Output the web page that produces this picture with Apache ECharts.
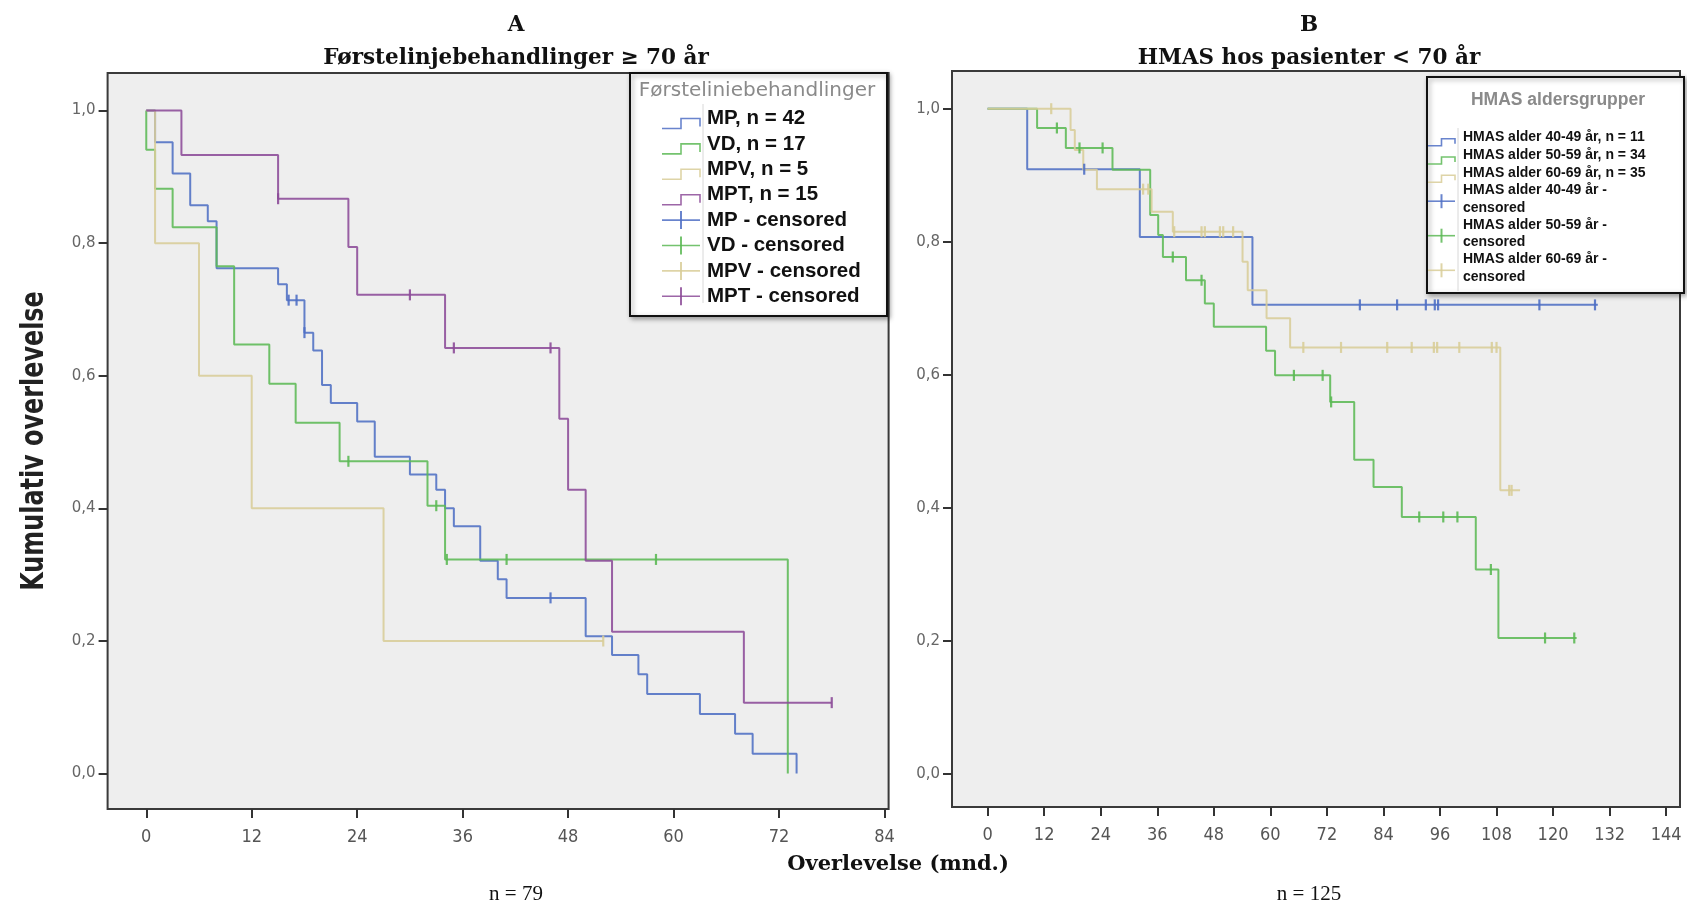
<!DOCTYPE html>
<html>
<head>
<meta charset="utf-8">
<script src="https://cdn.jsdelivr.net/npm/echarts@6/dist/echarts.min.js"></script>
<style>
  html, body { margin: 0; padding: 0; background: #fff; }
  #chart { width: 1687px; height: 904px; }
</style>
</head>
<body>
<div id="chart"></div>
<script>
// A: førstelinjebehandlinger >= 70 år  [måned, kumulativ overlevelse]
const mpSteps = [[0, 1], [1, 0.952], [3, 0.905], [5, 0.857], [7, 0.833], [8, 0.762], [15, 0.738], [16, 0.714], [18, 0.665], [19, 0.638], [20, 0.586], [21, 0.559], [24, 0.531], [26, 0.478], [30, 0.451], [33, 0.428], [34, 0.400], [35, 0.373], [38, 0.321], [40, 0.293], [41, 0.265], [50, 0.207], [53, 0.179], [56, 0.150], [57, 0.120], [63, 0.090], [67, 0.060], [69, 0.030], [74, 0]]
const mpCensored = [[16.2, 0.714], [17.1, 0.714], [18, 0.665], [46, 0.265]]
const vdSteps = [[0, 1], [0, 0.941], [1, 0.882], [3, 0.824], [8, 0.765], [10, 0.647], [14, 0.588], [17, 0.529], [22, 0.471], [32, 0.404], [34, 0.323], [73, 0]]
const vdCensored = [[23, 0.471], [33, 0.404], [34.2, 0.323], [41, 0.323], [58, 0.323]]
const mpvSteps = [[0, 1], [1, 0.8], [6, 0.6], [12, 0.4], [27, 0.2], [52, 0.2]]
const mpvCensored = [[52, 0.2]]
const mptSteps = [[0, 1], [4, 0.933], [15, 0.867], [23, 0.794], [24, 0.722], [34, 0.642], [47, 0.535], [48, 0.428], [50, 0.321], [53, 0.214], [68, 0.107], [78, 0.107]]
const mptCensored = [[15, 0.867], [30, 0.722], [35, 0.642], [46, 0.642], [78, 0.107]]

// B: HMAS hos pasienter < 70 år
const b40Steps = [[0, 1], [8.4, 0.909], [32.3, 0.807], [56.2, 0.705], [129.5, 0.705]]
const b40Censored = [[20.5, 0.909], [79, 0.705], [86.9, 0.705], [93, 0.705], [94.9, 0.705], [95.6, 0.705], [117.1, 0.705], [128.9, 0.705]]
const b50Steps = [[0, 1], [10.5, 0.971], [16.6, 0.941], [26.5, 0.908], [34.5, 0.840], [36.2, 0.810], [37.2, 0.777], [42.1, 0.742], [46.1, 0.707], [48, 0.672], [59.1, 0.636], [61, 0.599], [72.7, 0.559], [77.8, 0.472], [81.9, 0.431], [87.9, 0.386], [103.6, 0.307], [108.4, 0.204], [125, 0.204]]
const b50Censored = [[14.7, 0.971], [19.5, 0.941], [24.4, 0.941], [39.3, 0.777], [45.4, 0.742], [65, 0.599], [71.1, 0.599], [72.9, 0.559], [91.6, 0.386], [96.7, 0.386], [99.7, 0.386], [106.8, 0.307], [118.3, 0.204], [124.5, 0.204]]
const b60Steps = [[0, 1], [17.6, 0.968], [18.5, 0.938], [20.3, 0.908], [23.2, 0.879], [34.8, 0.845], [39.3, 0.815], [54.1, 0.770], [55.2, 0.727], [59.2, 0.685], [64.2, 0.641], [108.8, 0.426], [113, 0.426]]
const b60Censored = [[13.5, 1], [33, 0.879], [34.1, 0.879], [39.6, 0.815], [45.4, 0.815], [46.1, 0.815], [49.3, 0.815], [50, 0.815], [52.1, 0.815], [67, 0.641], [75, 0.641], [84.8, 0.641], [90, 0.641], [94.7, 0.641], [95.4, 0.641], [100.1, 0.641], [107, 0.641], [108, 0.641], [110.7, 0.426], [111.2, 0.426]]

// aksemerker
const yTicks = [0, 0.2, 0.4, 0.6, 0.8, 1.0]
const xTicksA = [0, 12, 24, 36, 48, 60, 72, 84]
const xTicksB = [0, 12, 24, 36, 48, 60, 72, 84, 96, 108, 120, 132, 144]

// tegnforklaring
const legendA = ['MP, n = 42', 'VD, n = 17', 'MPV, n = 5', 'MPT, n = 15', 'MP - censored', 'VD - censored', 'MPV - censored', 'MPT - censored']
const legendB = ['HMAS alder 40-49 år, n = 11', 'HMAS alder 50-59 år, n = 34', 'HMAS alder 60-69 år, n = 35', 'HMAS alder 40-49 år -\ncensored', 'HMAS alder 50-59 år -\ncensored', 'HMAS alder 60-69 år -\ncensored']

const BLUE = '#4f6fc4'
const GREEN = '#5cb955'
const BEIGE = '#d8cd98'
const PURPLE = '#8c4b98'

const kmLine = (name, data, color, idx) => ({
  name, type: 'line', step: 'end', data,
  xAxisIndex: idx, yAxisIndex: idx,
  symbol: 'none', clip: false, silent: true,
  lineStyle: { color, width: 2, opacity: 0.88 },
  itemStyle: { color },
  z: 2
})
const censorMarks = (name, data, color, idx) => ({
  name, type: 'scatter', data,
  xAxisIndex: idx, yAxisIndex: idx,
  symbol: 'rect', symbolSize: [2.2, 11], clip: false, silent: true,
  itemStyle: { color, opacity: 0.9 },
  z: 3
})

const fmtY = v => v.toFixed(1).replace('.', ',')

const yAxisBase = (idx) => ({
  type: 'value', gridIndex: idx,
  min: idx === 0 ? -0.0534 : -0.0502,
  max: idx === 0 ? 1.0566 : 1.0567,
  axisLine: { show: false, onZero: false },
  splitLine: { show: false },
  axisTick: { show: true, length: 9, customValues: yTicks, lineStyle: { color: '#333', width: 2 } },
  axisLabel: { customValues: yTicks, formatter: fmtY, margin: 12, color: '#666', fontFamily: 'DejaVu Sans', fontSize: 15 }
})
const xAxisBase = (idx, ticks, min, max) => ({
  type: 'value', gridIndex: idx, min, max,
  axisLine: { show: false, onZero: false },
  splitLine: { show: false },
  axisTick: { show: true, length: 9, customValues: ticks, lineStyle: { color: '#333', width: 2 } },
  axisLabel: { customValues: ticks, margin: 19, color: '#555', fontFamily: 'Liberation Sans Narrow, DejaVu Sans Condensed', fontSize: 18 }
})

// tegnforklaring som grafikk
const stepIcon = (x0, x1, c, color, lo, hi) => ({
  type: 'polyline',
  shape: { points: [[x0, c + lo], [(x0 + x1) / 2, c + lo], [(x0 + x1) / 2, c + hi], [x1, c + hi], [x1, c + lo - 2]] },
  style: { stroke: color, lineWidth: 1.6, fill: null, opacity: 0.85 }
})
const plusIcon = (x0, x1, c, color, h) => ([
  { type: 'line', shape: { x1: x0, y1: c, x2: x1, y2: c }, style: { stroke: color, lineWidth: 1.6, opacity: 0.85 } },
  { type: 'line', shape: { x1: (x0 + x1) / 2, y1: c - h, x2: (x0 + x1) / 2, y2: c + h }, style: { stroke: color, lineWidth: 2, opacity: 0.85 } }
])

const colorsA = [BLUE, GREEN, BEIGE, PURPLE]
const legA = [
  { type: 'rect', shape: { x: 630, y: 73, width: 257, height: 243 }, style: { fill: '#fff', stroke: '#111', lineWidth: 2, shadowBlur: 5, shadowOffsetX: 2, shadowOffsetY: 2, shadowColor: 'rgba(0,0,0,0.35)' } },
  { type: 'text', x: 757, y: 91, style: { text: 'Førsteliniebehandlinger', fill: '#8a8a8a', font: '20px "DejaVu Sans"', textAlign: 'center', textVerticalAlign: 'middle' } },
  { type: 'line', shape: { x1: 703, y1: 104, x2: 703, y2: 303 }, style: { stroke: '#d8d8d8', lineWidth: 1 } }
]
legendA.forEach((t, i) => {
  const c = 118.5 + i * 25.4
  const col = colorsA[i % 4]
  if (i < 4) legA.push(stepIcon(662, 700, c, col, 10, 0))
  else legA.push(...plusIcon(662, 700, c, col, 9))
  legA.push({ type: 'text', x: 707, y: c, style: { text: t, fill: '#111', font: 'bold 20.5px "Liberation Sans"', textAlign: 'left', textVerticalAlign: 'middle' } })
})

const colorsB = [BLUE, GREEN, BEIGE]
const legB = [
  { type: 'rect', shape: { x: 1427, y: 77, width: 257, height: 216 }, style: { fill: '#fff', stroke: '#111', lineWidth: 2, shadowBlur: 5, shadowOffsetX: 2, shadowOffsetY: 2, shadowColor: 'rgba(0,0,0,0.35)' } },
  { type: 'text', x: 1558, y: 100, style: { text: 'HMAS aldersgrupper', fill: '#8a8a8a', font: 'bold 17.5px "Liberation Sans"', textAlign: 'center', textVerticalAlign: 'middle' } },
  { type: 'line', shape: { x1: 1458, y1: 128, x2: 1458, y2: 291 }, style: { stroke: '#d8d8d8', lineWidth: 1 } }
]
const rowsB = [136.7, 155, 173.3, 199.2, 233.7, 268.3]
legendB.forEach((t, i) => {
  const c = rowsB[i]
  const col = colorsB[i % 3]
  if (i < 3) legB.push(stepIcon(1428, 1455, c, col, 9, 2))
  else legB.push(...plusIcon(1428, 1455, c + 2, col, 7))
  legB.push({ type: 'text', x: 1463, y: c, style: { text: t, fill: '#111', font: 'bold 14px "Liberation Sans"', lineHeight: 17.5, textAlign: 'left', textVerticalAlign: 'middle' } })
})

const serifBold = 'bold 21.5px "DejaVu Serif"'
const texts = [
  { type: 'text', x: 516, y: 25, style: { text: 'A', font: serifBold, fill: '#111', textAlign: 'center', textVerticalAlign: 'middle' } },
  { type: 'text', x: 516, y: 58, style: { text: 'Førstelinjebehandlinger ≥ 70 år', font: serifBold, fill: '#111', textAlign: 'center', textVerticalAlign: 'middle' } },
  { type: 'text', x: 1309, y: 25, style: { text: 'B', font: serifBold, fill: '#111', textAlign: 'center', textVerticalAlign: 'middle' } },
  { type: 'text', x: 1309, y: 58, style: { text: 'HMAS hos pasienter < 70 år', font: serifBold, fill: '#111', textAlign: 'center', textVerticalAlign: 'middle' } },
  { type: 'text', x: 898, y: 865, style: { text: 'Overlevelse (mnd.)', font: 'bold 21px "DejaVu Serif"', fill: '#111', textAlign: 'center', textVerticalAlign: 'middle' } },
  { type: 'text', x: 516, y: 894, style: { text: 'n = 79', font: '21px "Liberation Serif"', fill: '#111', textAlign: 'center', textVerticalAlign: 'middle' } },
  { type: 'text', x: 1309, y: 894, style: { text: 'n = 125', font: '21px "Liberation Serif"', fill: '#111', textAlign: 'center', textVerticalAlign: 'middle' } },
  { type: 'text', x: 35, y: 441, rotation: Math.PI / 2, scaleX: 0.83, style: { text: 'Kumulativ overlevelse', font: 'bold 32px "Liberation Sans Narrow", "DejaVu Sans Condensed"', fill: '#222', textAlign: 'center', textVerticalAlign: 'middle' } }
]

const chart = echarts.init(document.getElementById('chart'), null, { renderer: 'canvas' })
chart.setOption({
  animation: false,
  backgroundColor: '#fff',
  grid: [
    { left: 107.6, top: 73, width: 781, height: 736, show: true, backgroundColor: '#eeeeee', borderColor: '#3a3a3a', borderWidth: 2 },
    { left: 952, top: 71, width: 728, height: 736, show: true, backgroundColor: '#eeeeee', borderColor: '#3a3a3a', borderWidth: 2 }
  ],
  xAxis: [
    xAxisBase(0, xTicksA, -4.40, 84.47),
    xAxisBase(1, xTicksB, -7.56, 146.94)
  ],
  yAxis: [yAxisBase(0), yAxisBase(1)],
  series: [
    kmLine('MP', mpSteps, BLUE, 0),
    kmLine('VD', vdSteps, GREEN, 0),
    kmLine('MPV', mpvSteps, BEIGE, 0),
    kmLine('MPT', mptSteps, PURPLE, 0),
    censorMarks('MP - censored', mpCensored, BLUE, 0),
    censorMarks('VD - censored', vdCensored, GREEN, 0),
    censorMarks('MPV - censored', mpvCensored, BEIGE, 0),
    censorMarks('MPT - censored', mptCensored, PURPLE, 0),
    kmLine('40-49', b40Steps, BLUE, 1),
    kmLine('50-59', b50Steps, GREEN, 1),
    kmLine('60-69', b60Steps, BEIGE, 1),
    censorMarks('40-49 censored', b40Censored, BLUE, 1),
    censorMarks('50-59 censored', b50Censored, GREEN, 1),
    censorMarks('60-69 censored', b60Censored, BEIGE, 1)
  ],
  graphic: [...texts, ...legA, ...legB]
})
</script>
</body>
</html>
